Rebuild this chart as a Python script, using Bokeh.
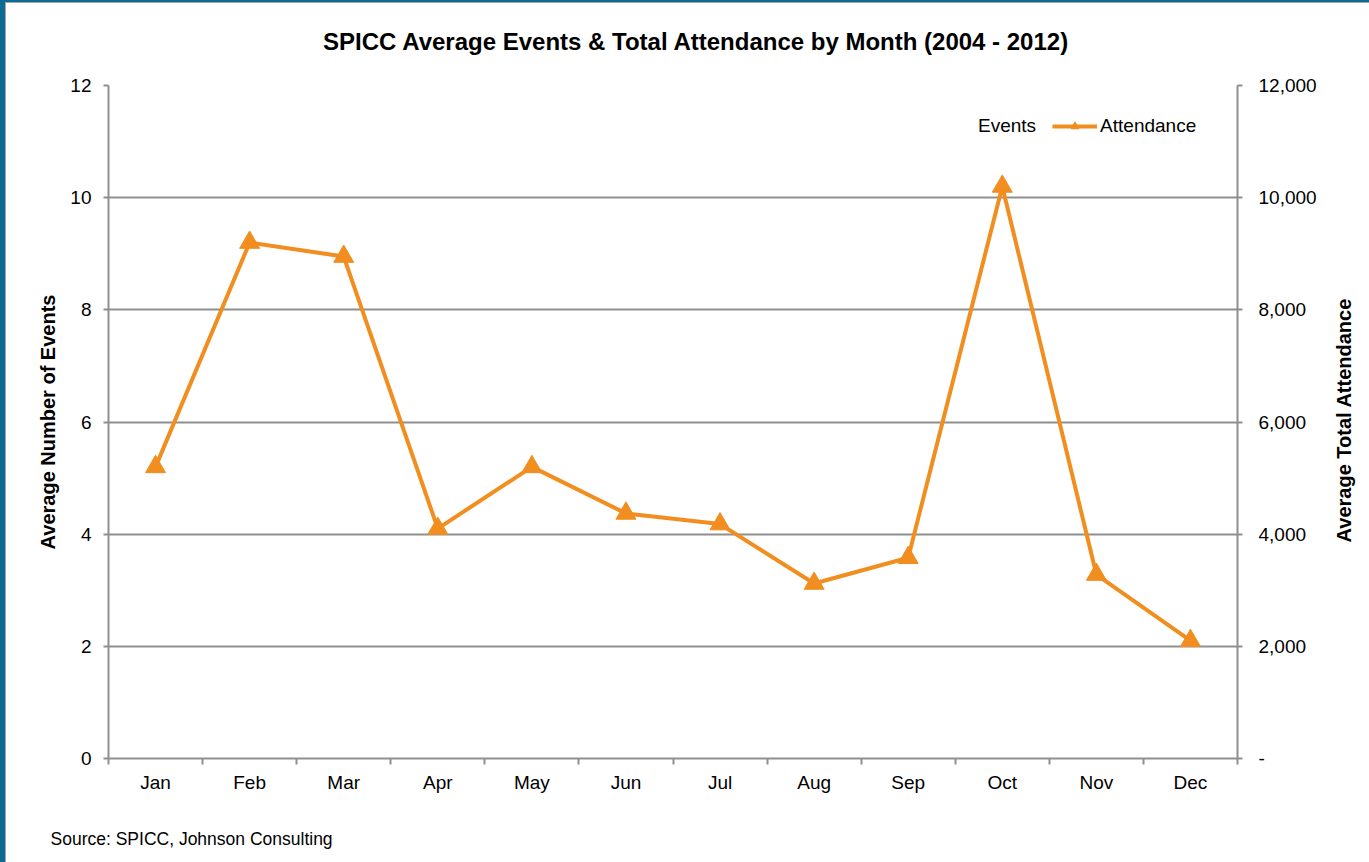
import math
from bokeh.plotting import figure
from bokeh.models import (Range1d, LinearAxis, FixedTicker, NumeralTickFormatter,
                          Legend, LegendItem, Label)
from bokeh.layouts import column, row
from bokeh.embed import file_html
from bokeh.resources import INLINE

# Monthly averages, SPICC 2004 - 2012
months = ["Jan", "Feb", "Mar", "Apr", "May", "Jun",
          "Jul", "Aug", "Sep", "Oct", "Nov", "Dec"]
attendance = [5200, 9200, 8950, 4100, 5200, 4370, 4180, 3120, 3580, 10200, 3280, 2100]
events = []  # events series is listed in the legend only
event_ticks = [0, 2, 4, 6, 8, 10, 12]
attendance_ticks = [0, 2000, 4000, 6000, 8000, 10000, 12000]

FONT = "Liberation Sans"
ORANGE = "#F18E1F"
GRID = "#8f8f8f"

# month i is centred in the slot [i, i+1]
xs = [i + 0.5 for i in range(len(months))]
bounds = list(range(len(months) + 1))

TOTAL_W, TOTAL_H = 1363, 859
TOP_H, BOTTOM_H, SIDE_W = 60, 59, 40
MAIN_W, MAIN_H = TOTAL_W - SIDE_W, TOTAL_H - TOP_H - BOTTOM_H


def strip(width, height):
    """Bare canvas used for free-standing text around the chart."""
    f = figure(width=width, height=height, output_backend="svg", toolbar_location=None,
               x_range=Range1d(0, width), y_range=Range1d(0, height),
               x_axis_location=None, y_axis_location=None, min_border=0)
    f.outline_line_color = None
    f.grid.visible = False
    f.background_fill_color = "white"
    f.border_fill_color = "white"
    return f


# ---- main chart -------------------------------------------------------------
p = figure(width=MAIN_W, height=MAIN_H, output_backend="svg", toolbar_location=None,
           x_range=Range1d(0, len(months)), y_range=Range1d(0, 12),
           min_border_left=102, min_border_right=92,
           min_border_top=22, min_border_bottom=45)
p.outline_line_color = None
p.background_fill_color = "white"
p.border_fill_color = "white"
p.extra_y_ranges = {"att": Range1d(0, 12000)}

# x axis: labels at month centres, ticks on slot boundaries
xa = p.xaxis[0]
xa.ticker = FixedTicker(ticks=xs, minor_ticks=bounds)
xa.major_label_overrides = {x: m for x, m in zip(xs, months)}
xa.major_tick_out = 0
xa.major_tick_in = 0
xa.minor_tick_out = 6
xa.minor_tick_in = 0
xa.minor_tick_line_color = GRID
xa.minor_tick_line_width = 2
xa.axis_line_color = GRID
xa.axis_line_width = 2
xa.major_label_text_font = FONT
xa.major_label_text_font_size = "19px"
xa.major_label_text_color = "black"
xa.major_label_standoff = 7

# left axis: events
ya = p.yaxis[0]
ya.ticker = FixedTicker(ticks=event_ticks, minor_ticks=[])
ya.axis_label = "Average Number of Events"
ya.axis_label_text_font = FONT
ya.axis_label_text_font_style = "bold"
ya.axis_label_text_font_size = "20px"
ya.axis_label_text_color = "black"
ya.axis_label_standoff = 8
ya.major_tick_out = 5
ya.major_tick_in = 0
ya.major_tick_line_color = GRID
ya.major_tick_line_width = 2
ya.axis_line_color = GRID
ya.axis_line_width = 2
ya.major_label_text_font = FONT
ya.major_label_text_font_size = "19px"
ya.major_label_text_color = "black"
ya.major_label_standoff = 12

# right axis: attendance
ra = LinearAxis(y_range_name="att",
                ticker=FixedTicker(ticks=attendance_ticks, minor_ticks=[]),
                formatter=NumeralTickFormatter(format="0,0"))
ra.major_label_overrides = {0: "-"}
ra.major_tick_out = 5
ra.major_tick_in = 0
ra.major_tick_line_color = GRID
ra.major_tick_line_width = 2
ra.axis_line_color = GRID
ra.axis_line_width = 2
ra.major_label_text_font = FONT
ra.major_label_text_font_size = "19px"
ra.major_label_text_color = "black"
ra.major_label_standoff = 16
p.add_layout(ra, "right")

p.xgrid.visible = False
p.ygrid.ticker = FixedTicker(ticks=event_ticks)
p.ygrid.grid_line_color = GRID
p.ygrid.grid_line_width = 2

# series
ev = p.vbar(x=events, top=events, width=0.6, fill_alpha=0, line_alpha=0)
att_line = p.line(xs, attendance, y_range_name="att", line_color=ORANGE, line_width=4)
att_pts = p.scatter(xs, attendance, y_range_name="att", marker="triangle",
                    size=20, fill_color=ORANGE, line_color=ORANGE)

legend = Legend(items=[LegendItem(label="Events", renderers=[ev]),
                       LegendItem(label="Attendance", renderers=[att_line, att_pts])],
                orientation="horizontal", location=(822, 621),
                glyph_width=45, glyph_height=20, label_height=20,
                label_standoff=3, spacing=16, padding=0, margin=0,
                border_line_color=None, background_fill_alpha=0,
                label_text_font=FONT, label_text_font_size="19px",
                label_text_color="black")
p.add_layout(legend, "center")

# ---- title strip -------------------------------------------------------------
top = strip(TOTAL_W, TOP_H)
top.add_layout(Label(x=690, y=22,
                     text="SPICC Average Events & Total Attendance by Month (2004 - 2012)",
                     text_font=FONT, text_font_style="bold", text_font_size="24px",
                     text_align="center", text_baseline="middle", text_color="black"))

# ---- right-hand axis title, reading bottom to top ---------------------------
side = strip(SIDE_W, MAIN_H)
side.add_layout(Label(x=14, y=MAIN_H - 368, angle=math.pi / 2,
                      text="Average Total Attendance",
                      text_font=FONT, text_font_style="bold", text_font_size="20px",
                      text_align="center", text_baseline="middle", text_color="black"))

# ---- source note ------------------------------------------------------------
bottom = strip(TOTAL_W, BOTTOM_H)
bottom.add_layout(Label(x=44, y=24, text="Source: SPICC, Johnson Consulting",
                        text_font=FONT, text_font_size="17.5px",
                        text_align="left", text_baseline="middle", text_color="black"))

inner = column(top, row(p, side), bottom,
               styles={"border-left": "1px solid #a6a6a6",
                       "border-top": "1px solid #a6a6a6",
                       "background": "white"})
page = column(inner, styles={"border-left": "5px solid #0d6b93",
                             "border-top": "2px solid #0d6b93",
                             "background": "white"})

open("out.html", "w").write(file_html(page, INLINE))
